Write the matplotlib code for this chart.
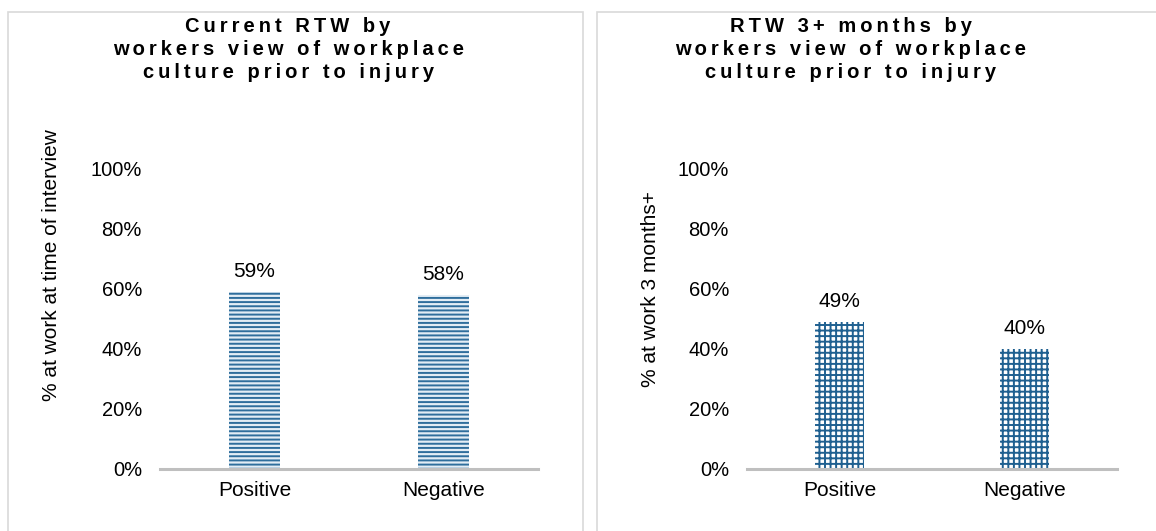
import numpy as np
import matplotlib
matplotlib.use('Agg')
import matplotlib.pyplot as plt
from matplotlib.patches import Rectangle

# Daten
categories = ['Positive', 'Negative']
current_rtw = [0.59, 0.58]
rtw_3months = [0.49, 0.40]
yticks = [0, 0.2, 0.4, 0.6, 0.8, 1.0]
ytick_labels = ['0%', '20%', '40%', '60%', '80%', '100%']

title_left = ['Current RTW by', 'workers view of workplace', 'culture prior to injury']
title_right = ['RTW 3+ months by', 'workers view of workplace', 'culture prior to injury']
ylabel_left = '% at work at time of interview'
ylabel_right = '% at work 3 months+'

plt.rcParams['font.family'] = ['Liberation Sans', 'DejaVu Sans']
plt.rcParams['hatch.linewidth'] = 1.4


def spaced(lines):
    # Zeichenabstand wie im Original simulieren
    return '\n'.join('\u2009'.join(line) for line in lines)


fig = plt.figure(figsize=(11.56, 5.31), dpi=100)

# Rahmen der beiden Diagrammbereiche
fig.patches.append(Rectangle((8 / 1156, -0.1), 575 / 1156, 1.1 - 12 / 531,
                             transform=fig.transFigure, fill=False,
                             edgecolor='#d9d9d9', linewidth=1.2))
fig.patches.append(Rectangle((597 / 1156, -0.1), 0.6, 1.1 - 12 / 531,
                             transform=fig.transFigure, fill=False,
                             edgecolor='#d9d9d9', linewidth=1.2))

ax1 = fig.add_axes([160 / 1156, 1 - 469 / 531, 378 / 1156, 300 / 531])
ax2 = fig.add_axes([747 / 1156, 1 - 469 / 531, 370 / 1156, 300 / 531])

x = np.arange(len(categories))

b1 = ax1.bar(x, current_rtw, width=0.265, color='#e3edf5', edgecolor='#2f6e9c',
             linewidth=0, hatch='----')
b2 = ax2.bar(x, rtw_3months, width=0.265, color='white', edgecolor='#1f6090',
             linewidth=0, hatch='+++')

for ax, bars, vals, title, tx, ylab, lx, ly in [
        (ax1, b1, current_rtw, title_left, 0.339, ylabel_left, -0.287, 0.68),
        (ax2, b2, rtw_3months, title_right, 0.281, ylabel_right, -0.26, 0.60)]:
    ax.set_xlim(-0.5, 1.5)
    ax.set_ylim(0, 1.0)
    ax.set_xticks(x)
    ax.set_xticklabels(categories, fontsize=15)
    ax.set_yticks(yticks)
    ax.set_yticklabels(ytick_labels, fontsize=14.5)
    ax.tick_params(axis='y', length=0, pad=13)
    ax.tick_params(axis='x', length=0, pad=9)
    for s in ['top', 'right', 'left']:
        ax.spines[s].set_visible(False)
    ax.spines['bottom'].set_color('#bfbfbf')
    ax.spines['bottom'].set_linewidth(2.2)
    ax.bar_label(bars, labels=[f'{v * 100:.0f}%' for v in vals], padding=8, fontsize=15)
    ax.set_title(spaced(title), x=tx, y=1.398, pad=0, va='center', fontsize=14.5,
                 fontweight='bold', linespacing=1.27)
    ax.set_ylabel(ylab, fontsize=15, va='center')
    ax.yaxis.set_label_coords(lx, ly)

fig.savefig('out.png', dpi=100)
